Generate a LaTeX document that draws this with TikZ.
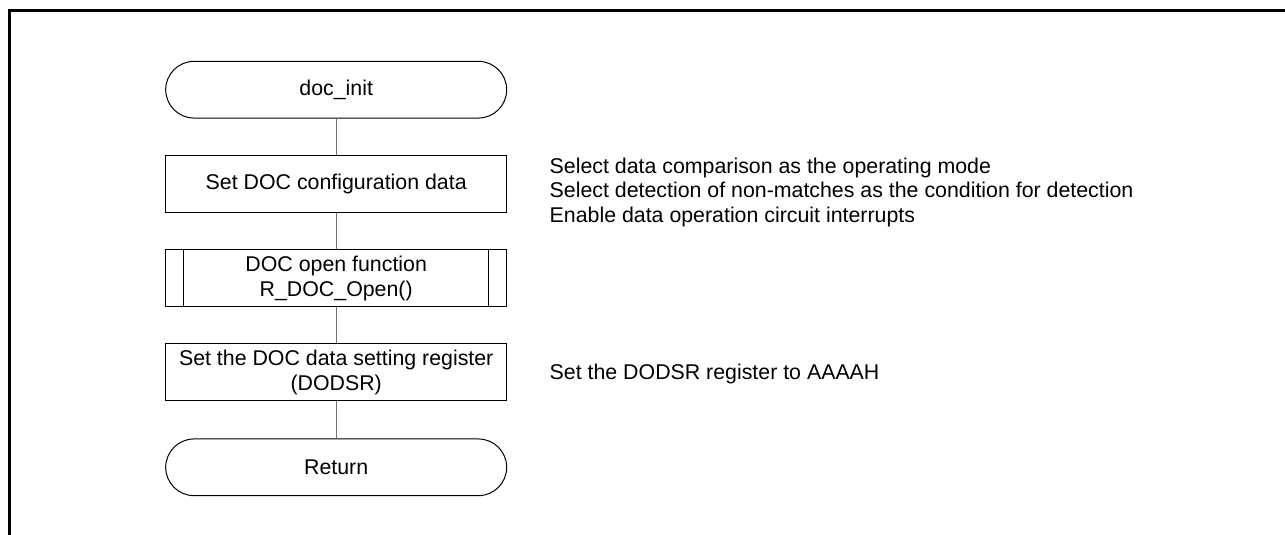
\documentclass[tikz,border=0pt]{standalone}
\usepackage{fontspec}
\setmainfont{Liberation Sans}
\begin{document}
\begin{tikzpicture}[x=0.5pt,y=-0.5pt,
  every node/.style={font=\fontsize{10.67}{12.3}\selectfont},
  proc/.style={draw=black, line width=0.5pt, minimum width=170.5pt,
    minimum height=28.35pt, align=center, inner sep=0pt, fill=white},
  term/.style={proc, rounded corners=14.17pt},
  link/.style={draw=black!55, line width=0.5pt},
  note/.style={inner sep=0pt, align=left}]
  \useasboundingbox (0,0) rectangle (1285,535);

  % page frame, open to the right and below
  \begin{scope}
    \clip (0,0) rectangle (1285,535);
    \draw[line width=1.5pt] (9.7,700) |- (1500,10.7);
  \end{scope}

  % flow steps
  \node[term] (start) at (336.2,89.7) {doc\_init};
  \node[proc] (cfg)   at (336.2,184)  {Set DOC configuration data};
  \node[proc] (open)  at (336.2,278.3) {DOC open function\\R\_DOC\_Open()};
  \draw[line width=0.5pt] ([xshift=9.25pt]open.north west) -- ([xshift=9.25pt]open.south west)
                          ([xshift=-9.25pt]open.north east) -- ([xshift=-9.25pt]open.south east);
  \node[proc] (reg)   at (336.2,372.3) {Set the DOC data setting register\\(DODSR)};
  \node[term] (ret)   at (336.2,467.3) {Return};

  % connectors
  \draw[link] (start) -- (cfg);
  \draw[link] (cfg) -- (open);
  \draw[link] (open) -- (reg);
  \draw[link] (reg) -- (ret);

  % side notes
  \node[note, anchor=west] (cfgnote) at (549.3,192.3)
    {Select data comparison as the operating mode\\
     Select detection of non-matches as the condition for detection\\
     Enable data operation circuit interrupts};
  \node[note, anchor=base west] (regnote) at (549.3,379)
    {Set the DODSR register to AAAAH};
\end{tikzpicture}
\end{document}
